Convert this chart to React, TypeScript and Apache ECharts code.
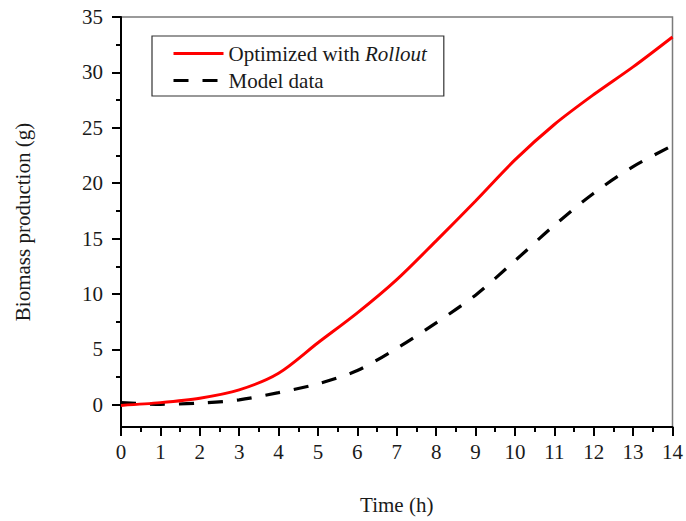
import React, { useEffect, useRef } from "react";
import * as echarts from "echarts";

const times = [0, 1, 2, 3, 4, 5, 6, 7, 8, 9, 10, 11, 12, 13, 14];
const optimizedRollout = [-0.05, 0.2, 0.6, 1.35, 2.85, 5.6, 8.3, 11.3, 14.8, 18.4, 22.1, 25.3, 28.0, 30.5, 33.2];
const modelData = [0.2, 0.05, 0.15, 0.45, 1.1, 1.9, 3.1, 5.1, 7.4, 9.9, 13.0, 16.2, 19.1, 21.5, 23.4];
const yMajorTicks = [0, 5, 10, 15, 20, 25, 30, 35];
const yMinorTicks = [2.5, 7.5, 12.5, 17.5, 22.5, 27.5, 32.5];

const FONT = "'Liberation Serif', 'Times New Roman', serif";
const TEXT = "#1a1a1a";

export default function App() {
  const ref = useRef<HTMLDivElement>(null);
  useEffect(() => {
    if (!ref.current) return;
    const chart = echarts.init(ref.current, undefined, { renderer: "svg" });
    chart.setOption({
      animation: false,
      backgroundColor: "#ffffff",
      grid: {
        left: 121,
        right: 13,
        top: 17,
        bottom: 94,
        show: true,
        borderColor: "#7a7a7a",
        borderWidth: 1.5,
        backgroundColor: "transparent",
      },
      legend: {
        orient: "vertical",
        left: 152,
        top: 36,
        padding: [7, 17, 5, 20],
        borderColor: "#333",
        borderWidth: 1.2,
        itemWidth: 50,
        itemHeight: 20,
        itemGap: 6,
        itemStyle: { opacity: 0, borderWidth: 0 },
        lineStyle: { width: 3 },
        formatter: (name: string) =>
          name === "Optimized with Rollout" ? "Optimized with {i|Rollout}" : name,
        textStyle: {
          fontFamily: FONT,
          fontSize: 21,
          color: TEXT,
          lineHeight: 20,
          rich: {
            i: { fontFamily: FONT, fontSize: 21, fontStyle: "italic", color: TEXT },
          },
        },
        data: ["Optimized with Rollout", "Model data"],
      },
      xAxis: {
        type: "value",
        min: 0,
        max: 14,
        interval: 1,
        name: "Time (h)",
        nameLocation: "middle",
        nameGap: 67,
        nameTextStyle: { fontFamily: FONT, fontSize: 21, color: TEXT },
        axisLine: { show: true, onZero: false, lineStyle: { color: "#000", width: 2 } },
        axisTick: { show: true, inside: false, length: 9, lineStyle: { color: "#000", width: 2 } },
        minorTick: { show: true, splitNumber: 2, length: 5, lineStyle: { color: "#000", width: 2 } },
        axisLabel: { margin: 14, fontFamily: FONT, fontSize: 21, color: TEXT },
        splitLine: { show: false },
      },
      yAxis: [
        {
          type: "value",
          min: -2,
          max: 35,
          position: "left",
          name: "Biomass production (g)",
          nameLocation: "middle",
          nameGap: 88,
          nameTextStyle: { fontFamily: FONT, fontSize: 21, color: TEXT },
          axisLine: { show: true, onZero: false, lineStyle: { color: "#000", width: 2 } },
          axisTick: {
            show: true,
            inside: false,
            length: 9,
            customValues: yMajorTicks,
            lineStyle: { color: "#000", width: 2 },
          },
          axisLabel: {
            customValues: yMajorTicks,
            margin: 18,
            fontFamily: FONT,
            fontSize: 21,
            color: TEXT,
          },
          splitLine: { show: false },
        },
        {
          type: "value",
          min: -2,
          max: 35,
          position: "left",
          axisLine: { show: false },
          axisTick: {
            show: true,
            inside: false,
            length: 5,
            customValues: yMinorTicks,
            lineStyle: { color: "#000", width: 2 },
          },
          axisLabel: { show: false },
          splitLine: { show: false },
        },
      ],
      series: [
        {
          name: "Optimized with Rollout",
          type: "line",
          smooth: 0.3,
          symbol: "none",
          data: times.map((t, i) => [t, optimizedRollout[i]]),
          lineStyle: { color: "#ff0000", width: 3 },
          itemStyle: { color: "#ff0000" },
          z: 3,
        },
        {
          name: "Model data",
          type: "line",
          smooth: 0.3,
          symbol: "none",
          data: times.map((t, i) => [t, modelData[i]]),
          lineStyle: { color: "#000000", width: 3.2, type: [15, 14], cap: "butt" },
          itemStyle: { color: "#000000" },
          z: 2,
        },
      ],
    });
    return () => chart.dispose();
  }, []);
  return (
    <div
      ref={ref}
      style={{ position: "fixed", left: 0, top: 0, width: 686, height: 521, background: "#fff" }}
    />
  );
}
